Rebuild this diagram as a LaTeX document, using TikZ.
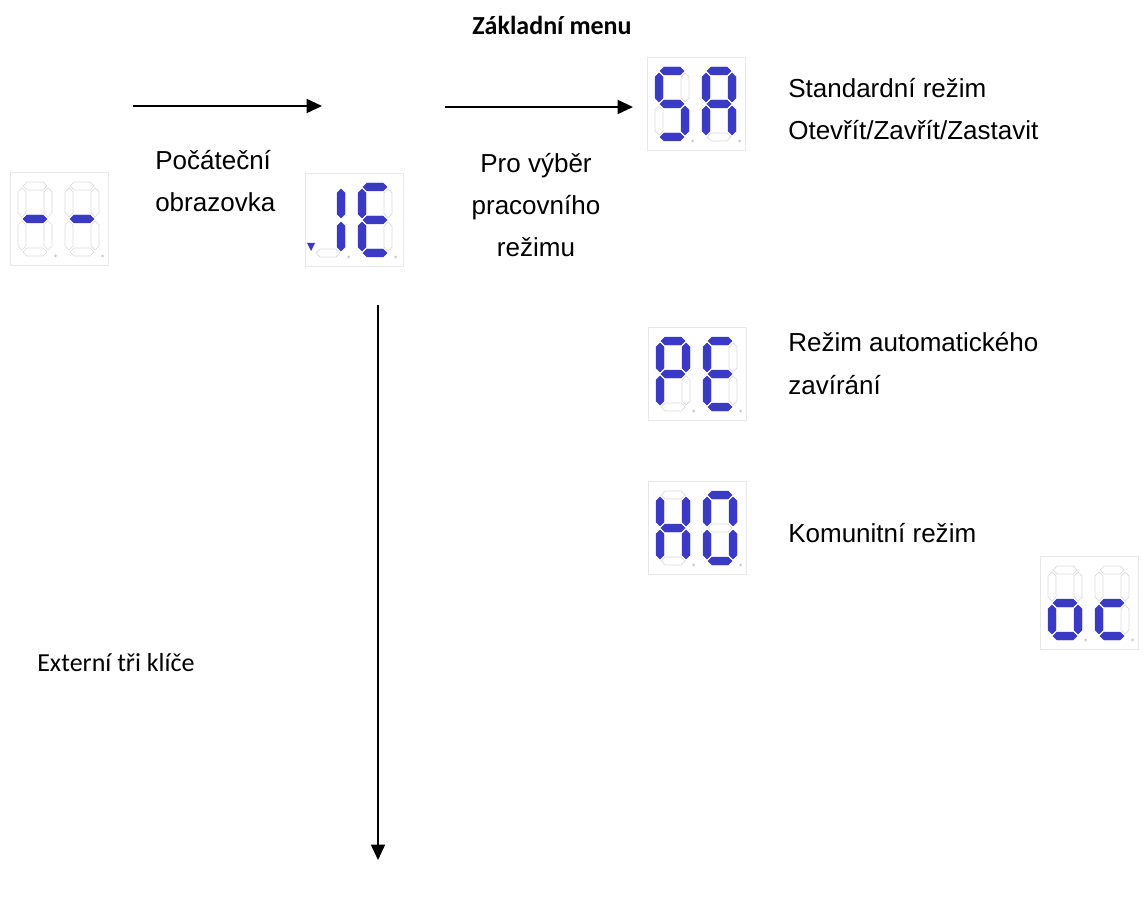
\documentclass[tikz,border=0pt]{standalone}
\usepackage{fontspec}
\setmainfont{Liberation Sans}
\newfontfamily\calibrifont{Carlito}
\usepackage{xcolor}
\usetikzlibrary{arrows.meta, positioning}

\definecolor{segblue}{RGB}{58,58,196}

\tikzset{
  flow/.style={line width=1.3pt, -{Triangle[length=11pt, width=10pt]}},
  modetext/.style={font=\fontsize{18.5}{30}\selectfont, align=left, inner sep=0pt, anchor=base west},
  keytext/.style={font=\calibrifont\fontsize{18.5}{30}\selectfont, inner sep=0pt},
  panelbox/.style={draw=gray!18, line width=0.6pt, anchor=north west, inner sep=0pt,
    minimum width=2.45cm, minimum height=2.325cm},
  segon/.style={fill=segblue, draw=segblue, line width=0.3pt},
  segoff/.style={draw=gray!30, line width=0.5pt},
  % one segment, horizontal or vertical
  hseg/.style={insert path={(0,0) -- (4,-4) -- (20,-4) -- (24,0) -- (20,4) -- (4,4) -- cycle}},
  vseg/.style={insert path={(0,0) -- (4,4) -- (4,25) -- (0,29) -- (-4,25) -- (-4,4) -- cycle}},
  seg a/.style={shift={(5,4)}, hseg},
  seg g/.style={shift={(5,37)}, hseg},
  seg d/.style={shift={(5,70)}, hseg},
  seg f/.style={shift={(4,6)}, vseg},
  seg b/.style={shift={(30,6)}, vseg},
  seg e/.style={shift={(4,39)}, vseg},
  seg c/.style={shift={(30,39)}, vseg},
}

% box of a two digit display, top left corner at (#2,#3)
\newcommand{\segpanel}[3]{\node[panelbox] (#1) at (#2,#3) {};}
% one digit: #3 lit segments, #4 dark segments
\newcommand{\segdigit}[4]{%
  \begin{scope}[shift={(#1,#2)}]
    \foreach \s in {#4} \draw[segoff, seg \s];
    \foreach \s in {#3} \filldraw[segon, seg \s];
    \fill[gray!40] (37.5,74) circle (1.5); % decimal point
  \end{scope}}

\begin{document}
\begin{tikzpicture}[x=0.025cm, y=-0.025cm]
  \useasboundingbox (0,0) rectangle (1148,898);

  \node[keytext, font=\calibrifont\bfseries\fontsize{18.5}{30}\selectfont] (menu) at (552,25) {Základní menu};

  % start screen "--"
  \segpanel{start}{10}{172}
  \segdigit{18}{182}{g}{a,b,c,d,e,f}
  \segdigit{65}{182}{g}{a,b,c,d,e,f}

  % screen "JE", cut on the left
  \segpanel{je}{305}{173}
  \segdigit{311}{183}{b,c}{d}
  \fill[segblue] (307,243) -- (315,243) -- (311,251) -- cycle;
  \segdigit{358}{183}{a,f,g,e,d}{b,c}

  % modes
  \segpanel{sa}{647}{57}
  \segdigit{655}{67}{a,f,g,c,d}{b,e}
  \segdigit{702}{67}{a,b,c,e,f,g}{d}

  \segpanel{pe}{648}{327}
  \segdigit{656}{337}{a,b,f,g,e}{c,d}
  \segdigit{703}{337}{a,f,g,e,d}{b,c}

  \segpanel{ho}{648}{481}
  \segdigit{656}{491}{f,b,g,e,c}{a,d}
  \segdigit{703}{491}{a,b,c,d,e,f}{g}

  \segpanel{oc}{1040}{556}
  \segdigit{1048}{566}{g,c,d,e}{a,b,f}
  \segdigit{1095}{566}{g,e,d}{a,b,c,f}

  % texts (base = last line)
  \node[modetext] (init) at (155,212) {Počáteční\\obrazovka};
  \node[modetext, align=center, anchor=base] (choose) at (536,257) {Pro výběr\\pracovního\\režimu};
  \node[modetext] (std) at (788,140) {Standardní režim\\Otevřít/Zavřít/Zastavit};
  \node[modetext] (auto) at (788,394) {Režim automatického\\zavírání};
  \node[modetext] (comm) at (788,542) {Komunitní režim};
  \node[keytext, anchor=west] (ext) at (37,663) {Externí tři klíče};

  % arrows
  \coordinate (a1) at (133,106);
  \coordinate (b1) at (322,106);
  \coordinate (a2) at (445,107);
  \coordinate (b2) at (633,107);
  \coordinate (a3) at (378,305);
  \coordinate (b3) at (378,860);
  \draw[flow] (a1) -- (b1);
  \draw[flow] (a2) -- (b2);
  \draw[flow] (a3) -- (b3);
\end{tikzpicture}
\end{document}
